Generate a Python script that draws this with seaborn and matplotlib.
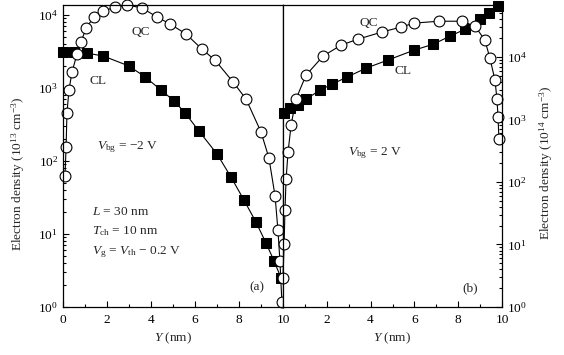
import numpy as np
import pandas as pd
import matplotlib
matplotlib.use("Agg")
import matplotlib.pyplot as plt
import seaborn as sns
from matplotlib.ticker import LogLocator, LogFormatterSciNotation, MultipleLocator

# (a) Vbg = -2 V, density in 1e13 cm^-3
y_cl_a = [0.0, 0.5, 1.09, 1.82, 3.0, 3.73, 4.45, 5.05, 5.55, 6.18, 7.0, 7.64, 8.23, 8.77, 9.23, 9.59, 9.91]
n_cl_a = [3100, 3100, 3000, 2750, 2000, 1420, 940, 665, 455, 257, 125, 60, 29, 14.6, 7.5, 4.3, 2.5]
y_qc_a = [0.09, 0.14, 0.18, 0.27, 0.41, 0.64, 0.82, 1.05, 1.41, 1.82, 2.36, 2.91, 3.59, 4.27, 4.86,
          5.59, 6.32, 6.91, 7.73, 8.32, 9.0, 9.36, 9.64, 9.77, 9.86, 9.95]
n_qc_a = [62, 155, 455, 935, 1660, 2930, 4260, 6650, 9400, 11300, 12800, 13700, 12500, 9400, 7550,
          5500, 3400, 2410, 1210, 705, 250, 110, 33, 11.3, 4.3, 1.17]

# (b) Vbg = 2 V, density in 1e14 cm^-3
y_cl_b = [0.05, 0.32, 0.68, 1.05, 1.69, 2.24, 2.92, 3.79, 4.79, 5.98, 6.85, 7.63, 8.31, 9.0, 9.41, 9.82]
n_cl_b = [1260, 1510, 1690, 2100, 2940, 3660, 4750, 6600, 8900, 12800, 15900, 21500, 27700, 40000, 50000, 64500]
y_qc_b = [0.0, 0.05, 0.09, 0.14, 0.23, 0.37, 0.59, 1.05, 1.83, 2.65, 3.42, 4.52, 5.39, 5.98, 7.12,
          8.17, 8.77, 9.22, 9.45, 9.68, 9.77, 9.82, 9.86]
n_qc_b = [2.9, 10, 35, 110, 300, 810, 2100, 5100, 10300, 15400, 19200, 25000, 30000, 34700, 37200,
          37200, 31000, 18500, 9500, 4250, 2100, 1080, 480]

sns.set_style("ticks")
plt.rcParams['font.family'] = ['Liberation Serif', 'DejaVu Serif']
plt.rcParams['mathtext.fontset'] = 'custom'
plt.rcParams['mathtext.rm'] = 'Liberation Serif'
plt.rcParams['mathtext.it'] = 'Liberation Serif:italic'
fs = 9.6
plt.rcParams['font.size'] = fs

fig = plt.figure(figsize=(5.64, 3.55), dpi=100)
ax1 = fig.add_axes([63 / 564, 1 - 307 / 355, 220 / 564, 302 / 355])
ax2 = fig.add_axes([283 / 564, 1 - 307 / 355, 219 / 564, 302 / 355])

line_kw = dict(color='black', linewidth=0.8, estimator=None, sort=False, clip_on=False, legend=False)
sq_kw = dict(marker='s', markersize=7, markerfacecolor='black', markeredgecolor='black')
ci_kw = dict(marker='o', markersize=7.8, markerfacecolor='white', markeredgecolor='black', markeredgewidth=0.8)

sns.lineplot(x=y_cl_a, y=n_cl_a, ax=ax1, **line_kw, **sq_kw)
sns.lineplot(x=y_qc_a, y=n_qc_a, ax=ax1, **line_kw, **ci_kw)
sns.lineplot(x=y_cl_b, y=n_cl_b, ax=ax2, **line_kw, **sq_kw)
sns.lineplot(x=y_qc_b, y=n_qc_b, ax=ax2, **line_kw, **ci_kw)

for ax, top in [(ax1, 10 ** 4.137), (ax2, 10 ** 4.83)]:
    ax.set_yscale('log')
    ax.set_xlim(0, 10)
    ax.set_ylim(1, top)
    ax.xaxis.set_minor_locator(MultipleLocator(1))
    ax.yaxis.set_major_locator(LogLocator(base=10))
    ax.yaxis.set_minor_locator(LogLocator(base=10, subs=np.arange(2, 10)))
    ax.yaxis.set_major_formatter(LogFormatterSciNotation())
    ax.tick_params(which='both', direction='in', width=0.8, colors='black', labelsize=fs)
    ax.tick_params(which='major', length=4)
    ax.tick_params(which='minor', length=2.5)
    ax.tick_params(axis='x', pad=5)
    for s in ax.spines.values():
        s.set_linewidth(0.9)
        s.set_color('black')
    ax.set_xlabel(r'$Y$ (nm)', fontsize=fs, labelpad=3)

ax1.set_xticks([0, 2, 4, 6, 8, 10])
ax1.tick_params(axis='y', which='both', left=True, right=False)
ax1.set_ylabel(r'Electron density (10$^{13}$ cm$^{-3}$)', fontsize=fs)
ax1.yaxis.set_label_coords(-0.165, 0.44)

ax2.set_xticks([2, 4, 6, 8, 10])
ax2.yaxis.tick_right()
ax2.yaxis.set_label_position('right')
ax2.tick_params(axis='y', which='both', left=False, right=True)
ax2.set_ylabel(r'Electron density (10$^{14}$ cm$^{-3}$)', fontsize=fs)
ax2.yaxis.set_label_coords(1.16, 0.477)

ax1.text(3.55, 5850, 'QC', ha='center', va='center', fontsize=fs)
ax1.text(1.6, 1250, 'CL', ha='center', va='center', fontsize=fs)
ax1.text(1.55, 155, r'$V_{\rm bg}$ = $-$2 V', ha='left', va='center', fontsize=fs)
ax1.text(1.3, 20, r'$L$ = 30 nm', ha='left', va='center', fontsize=fs)
ax1.text(1.3, 11, r'$T_{\rm ch}$ = 10 nm', ha='left', va='center', fontsize=fs)
ax1.text(1.3, 5.7, r'$V_{\rm g}$ = $V_{\rm th}$ $-$ 0.2 V', ha='left', va='center', fontsize=fs)
ax1.text(8.8, 1.88, '(a)', ha='center', va='center', fontsize=fs)

ax2.text(3.9, 34600, 'QC', ha='center', va='center', fontsize=fs)
ax2.text(5.5, 5900, 'CL', ha='center', va='center', fontsize=fs)
ax2.text(2.97, 288, r'$V_{\rm bg}$ = 2 V', ha='left', va='center', fontsize=fs)
ax2.text(8.54, 2.0, '(b)', ha='center', va='center', fontsize=fs)

fig.savefig('out.png', dpi=100)
